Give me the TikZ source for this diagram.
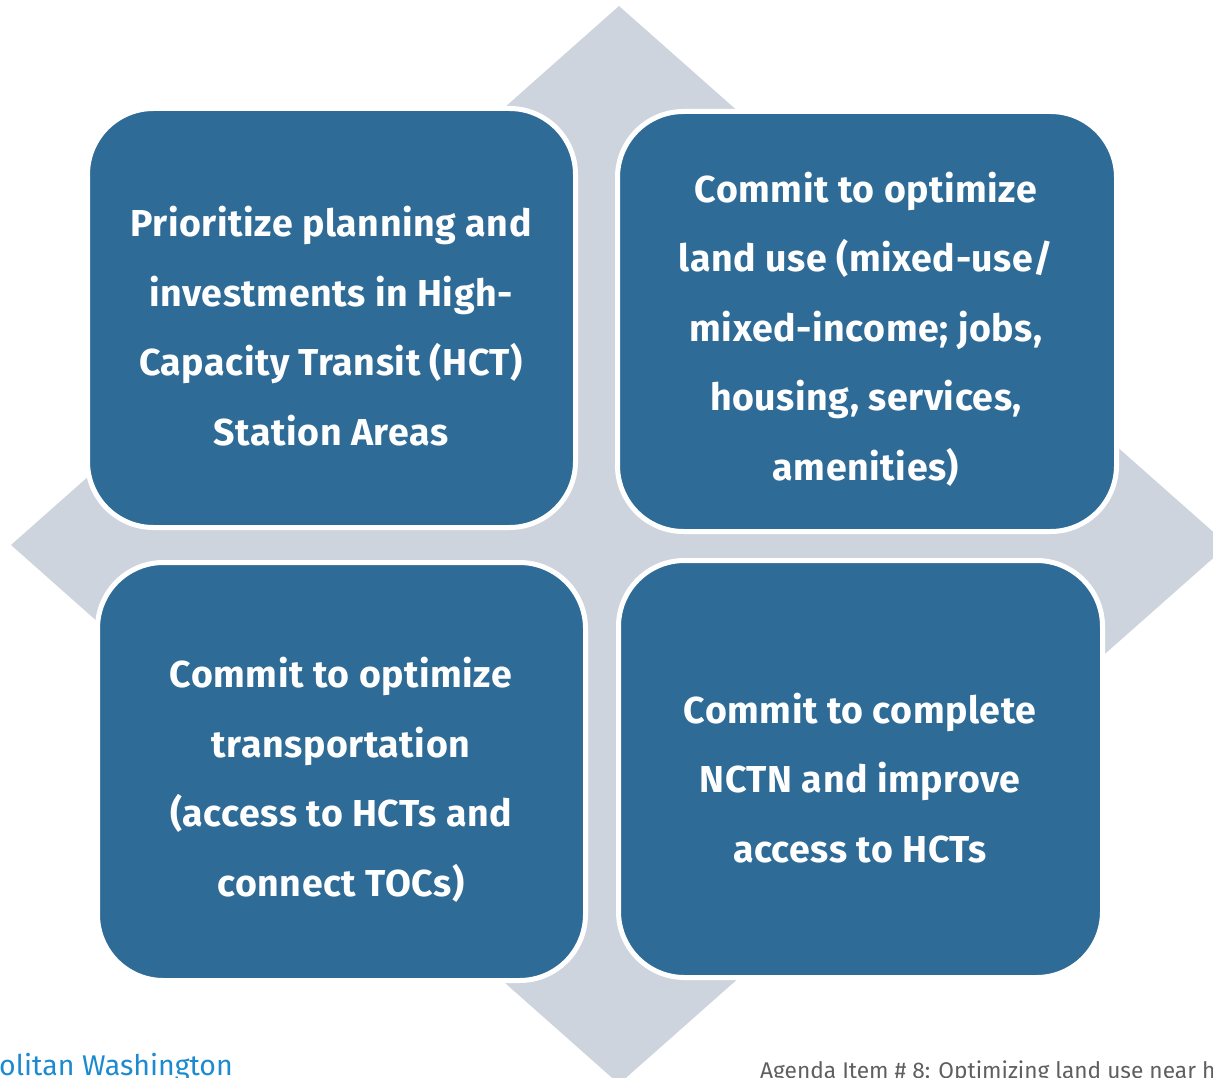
\documentclass[tikz,border=0pt]{standalone}
\usepackage{fontspec}
\setmainfont{Fira Sans}
\definecolor{boxblue}{RGB}{46,107,150}
\definecolor{diagray}{RGB}{206,212,222}
\definecolor{footblue}{RGB}{28,138,208}
\definecolor{footgray}{RGB}{95,95,95}
\tikzset{
  quad/.style={draw=white, line width=5pt, fill=boxblue, rounded corners=66pt,
    inner sep=0pt, outer sep=0pt, rectangle},
  quadtext/.style={text=white, align=center,
    font=\fontsize{37.5}{69.5}\selectfont\bfseries\addfontfeatures{LetterSpace=1.5},
    inner sep=0pt},
}
\begin{document}
\begin{tikzpicture}[x=1pt,y=-1pt]
\useasboundingbox (0,0) rectangle (1213,1078);
\clip (0,0) rectangle (1213,1078);
\fill[diagray] (619,6) -- (1228,545) -- (619,1084) -- (11,545) -- cycle;
\node[quad, minimum width=488pt, minimum height=419pt] (tl) at (331.5,318) {};
\node[quad, minimum width=499pt, minimum height=420pt] (tr) at (867,321.5) {};
\node[quad, minimum width=488pt, minimum height=418pt] (bl) at (341.5,771.5) {};
\node[quad, minimum width=484pt, minimum height=417pt] (br) at (860.5,769) {};
\node[quadtext] (tlt) at (331,326) {Prioritize planning and\\investments in High-\\Capacity Transit (HCT)\\Station Areas};
\node[quadtext] (trt) at (866,329) {Commit to optimize\\land use (mixed-use/\\mixed-income; jobs,\\housing, services,\\amenities)};
\node[quadtext] (blt) at (341,780) {Commit to optimize\\transportation\\(access to HCTs and\\connect TOCs)};
\node[quadtext] (brt) at (860,778) {Commit to complete\\NCTN and improve\\access to HCTs};
\node[anchor=base west, text=footblue, font=\fontsize{28.5}{30}\selectfont, inner sep=0pt] (f1) at (-1,1075) {olitan Washington};
\node[anchor=base west, text=footgray, font=\fontsize{22.7}{24}\selectfont, inner sep=0pt] (f2) at (760,1078) {Agenda Item \# 8: Optimizing land use near h};
\end{tikzpicture}
\end{document}
